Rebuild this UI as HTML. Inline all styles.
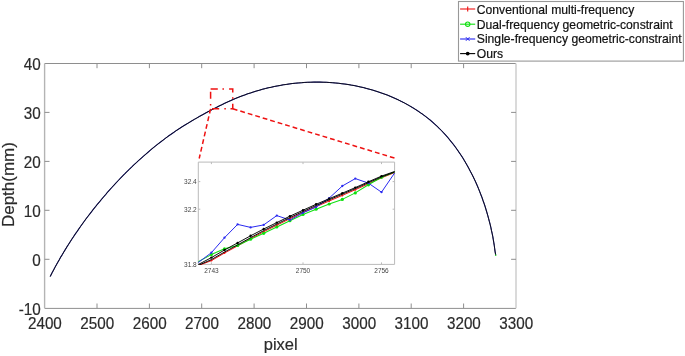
<!DOCTYPE html>
<html><head><meta charset="utf-8"><title>Depth profile</title>
<style>
html,body{margin:0;padding:0;background:#fff;}
svg{display:block;font-family:"Liberation Sans",Arial,sans-serif;}
</style></head><body>
<svg width="685" height="356" viewBox="0 0 685 356">
<rect width="685" height="356" fill="#fff"/>
<g stroke="#8e8e8e" stroke-width="1" fill="none">
<path d="M44.6,63.5 H516.0" /><path d="M44.6,308.4 H516.0"/>
<path d="M44.6,63.5 V308.2" stroke="#b4b4b4" stroke-width="1.4"/>
<path d="M516.0,63.5 V308.2" stroke="#d6d6d6" stroke-width="1.8"/>
<path d="M97.0,308.2 v-4.7 M97.0,63.5 v4.7"/>
<path d="M149.4,308.2 v-4.7 M149.4,63.5 v4.7"/>
<path d="M201.7,308.2 v-4.7 M201.7,63.5 v4.7"/>
<path d="M254.1,308.2 v-4.7 M254.1,63.5 v4.7"/>
<path d="M306.5,308.2 v-4.7 M306.5,63.5 v4.7"/>
<path d="M358.9,308.2 v-4.7 M358.9,63.5 v4.7"/>
<path d="M411.2,308.2 v-4.7 M411.2,63.5 v4.7"/>
<path d="M463.6,308.2 v-4.7 M463.6,63.5 v4.7"/>
<path d="M44.6,259.3 h4.9 M516.0,259.3 h-4.9"/>
<path d="M44.6,210.3 h4.9 M516.0,210.3 h-4.9"/>
<path d="M44.6,161.4 h4.9 M516.0,161.4 h-4.9"/>
<path d="M44.6,112.4 h4.9 M516.0,112.4 h-4.9"/>
</g>
<g fill="#2b2b2b" stroke="#2b2b2b" stroke-width="0.18" font-size="15px">
<text transform="translate(44.9,328.6) scale(1.015,1.13)" text-anchor="middle">2400</text>
<text transform="translate(97.3,328.6) scale(1.015,1.13)" text-anchor="middle">2500</text>
<text transform="translate(149.7,328.6) scale(1.015,1.13)" text-anchor="middle">2600</text>
<text transform="translate(202.0,328.6) scale(1.015,1.13)" text-anchor="middle">2700</text>
<text transform="translate(254.4,328.6) scale(1.015,1.13)" text-anchor="middle">2800</text>
<text transform="translate(306.8,328.6) scale(1.015,1.13)" text-anchor="middle">2900</text>
<text transform="translate(359.2,328.6) scale(1.015,1.13)" text-anchor="middle">3000</text>
<text transform="translate(411.5,328.6) scale(1.015,1.13)" text-anchor="middle">3100</text>
<text transform="translate(463.9,328.6) scale(1.015,1.13)" text-anchor="middle">3200</text>
<text transform="translate(516.3,328.6) scale(1.015,1.13)" text-anchor="middle">3300</text>
<text transform="translate(40.8,314.7) scale(1.015,1.13)" text-anchor="end">-10</text>
<text transform="translate(40.8,265.8) scale(1.015,1.13)" text-anchor="end">0</text>
<text transform="translate(40.8,216.8) scale(1.015,1.13)" text-anchor="end">10</text>
<text transform="translate(40.8,167.9) scale(1.015,1.13)" text-anchor="end">20</text>
<text transform="translate(40.8,118.9) scale(1.015,1.13)" text-anchor="end">30</text>
<text transform="translate(40.8,70.0) scale(1.015,1.13)" text-anchor="end">40</text>
</g>
<text x="280.7" y="350" text-anchor="middle" font-size="16.5px" fill="#2b2b2b" stroke="#2b2b2b" stroke-width="0.18">pixel</text>
<text transform="translate(13.5,184.6) rotate(-90)" text-anchor="middle" font-size="16.5px" fill="#2b2b2b" stroke="#2b2b2b" stroke-width="0.18" textLength="85" lengthAdjust="spacingAndGlyphs">Depth(mm)</text>
<path d="M50.2,276.6 L52.2,272.6 L53.6,270.0 L54.9,267.4 L56.4,264.8 L57.8,262.3 L59.3,259.7 L60.7,257.1 L62.3,254.6 L63.8,252.0 L65.4,249.4 L66.9,246.9 L68.6,244.3 L70.2,241.8 L71.8,239.2 L73.5,236.7 L75.2,234.1 L77.0,231.6 L78.7,229.1 L80.5,226.5 L82.3,224.0 L84.1,221.5 L85.9,219.0 L87.8,216.5 L89.7,214.1 L91.6,211.6 L93.5,209.1 L95.5,206.7 L97.5,204.2 L99.5,201.8 L101.5,199.4 L103.5,197.0 L105.6,194.6 L107.6,192.2 L109.7,189.8 L111.8,187.5 L114.0,185.1 L116.1,182.8 L118.3,180.5 L120.5,178.2 L122.7,175.9 L124.9,173.6 L127.2,171.4 L129.5,169.2 L131.8,166.9 L134.1,164.7 L136.4,162.6 L138.7,160.4 L141.1,158.3 L143.5,156.2 L145.9,154.1 L148.3,152.0 L150.7,149.9 L153.1,147.9 L155.6,145.9 L158.1,143.9 L160.6,142.0 L163.1,140.1 L165.6,138.2 L168.1,136.3 L170.7,134.5 L173.3,132.7 L175.8,130.9 L178.4,129.2 L181.0,127.5 L183.7,125.8 L186.3,124.2 L189.0,122.6 L191.6,121.0 L194.3,119.4 L197.0,117.9 L199.7,116.3 L202.5,114.8 L205.2,113.3 L207.9,111.8 L210.7,110.4 L213.5,108.9 L216.3,107.5 L219.1,106.0 L221.9,104.7 L224.7,103.3 L227.5,102.0 L230.4,100.7 L233.2,99.4 L236.1,98.2 L239.0,97.1 L241.9,95.9 L244.8,94.9 L247.7,93.8 L250.6,92.9 L253.5,91.9 L256.5,91.0 L259.4,90.2 L262.4,89.3 L265.3,88.6 L268.3,87.8 L271.3,87.2 L274.3,86.5 L277.3,85.9 L280.3,85.4 L283.3,84.8 L286.3,84.4 L289.3,83.9 L292.4,83.5 L295.4,83.2 L298.5,82.9 L301.5,82.7 L304.6,82.4 L307.7,82.3 L310.8,82.2 L313.8,82.1 L316.9,82.1 L320.0,82.1 L323.1,82.2 L326.2,82.3 L329.3,82.5 L332.5,82.7 L335.6,83.0 L338.7,83.3 L341.8,83.7 L344.9,84.1 L348.0,84.5 L351.1,85.1 L354.2,85.6 L357.2,86.2 L360.3,86.9 L363.4,87.6 L366.4,88.4 L369.4,89.2 L372.5,90.1 L375.5,91.0 L378.4,91.9 L381.4,93.0 L384.3,94.0 L387.3,95.1 L390.2,96.3 L393.0,97.5 L395.9,98.8 L398.7,100.1 L401.5,101.5 L404.3,102.9 L407.0,104.4 L409.7,105.9 L412.4,107.5 L415.0,109.1 L417.6,110.8 L420.2,112.6 L422.7,114.3 L425.2,116.2 L427.7,118.1 L430.1,120.0 L432.4,122.0 L434.7,124.1 L437.0,126.2 L439.2,128.3 L441.4,130.5 L443.6,132.8 L445.7,135.1 L447.7,137.4 L449.7,139.8 L451.7,142.3 L453.6,144.7 L455.5,147.2 L457.3,149.8 L459.1,152.4 L460.9,155.0 L462.6,157.6 L464.2,160.3 L465.8,163.0 L467.4,165.8 L468.9,168.6 L470.4,171.4 L471.9,174.2 L473.3,177.0 L474.7,179.9 L476.0,182.8 L477.3,185.7 L478.5,188.6 L479.7,191.6 L480.8,194.5 L482.0,197.5 L483.0,200.5 L484.1,203.5 L485.1,206.5 L486.0,209.5 L486.9,212.5 L487.8,215.6 L488.6,218.6 L489.4,221.6 L490.2,224.6 L490.9,227.7 L491.5,230.7 L492.2,233.7 L492.8,236.7 L493.3,239.7 L493.8,242.7 L494.3,245.7 L494.7,248.7 L495.1,251.7 L495.7,254.9" fill="none" stroke="#22228c" stroke-width="1.05" stroke-linejoin="round"/>
<path d="M50.2,276.6 L52.2,272.6 L53.6,270.0 L54.9,267.4 L56.4,264.8 L57.8,262.3 L59.3,259.7 L60.7,257.1 L62.3,254.6 L63.8,252.0 L65.4,249.4 L66.9,246.9 L68.6,244.3 L70.2,241.8 L71.8,239.2 L73.5,236.7 L75.2,234.1 L77.0,231.6 L78.7,229.1 L80.5,226.5 L82.3,224.0 L84.1,221.5 L85.9,219.0 L87.8,216.5 L89.7,214.1 L91.6,211.6 L93.5,209.1 L95.5,206.7 L97.5,204.2 L99.5,201.8 L101.5,199.4 L103.5,197.0 L105.6,194.6 L107.6,192.2 L109.7,189.8 L111.8,187.5 L114.0,185.1 L116.1,182.8 L118.3,180.5 L120.5,178.2 L122.7,175.9 L124.9,173.6 L127.2,171.4 L129.5,169.2 L131.8,166.9 L134.1,164.7 L136.4,162.6 L138.7,160.4 L141.1,158.3 L143.5,156.2 L145.9,154.1 L148.3,152.0 L150.7,149.9 L153.1,147.9 L155.6,145.9 L158.1,143.9 L160.6,142.0 L163.1,140.1 L165.6,138.2 L168.1,136.3 L170.7,134.5 L173.3,132.7 L175.8,130.9 L178.4,129.2 L181.0,127.5 L183.7,125.8 L186.3,124.2 L189.0,122.6 L191.6,121.0 L194.3,119.4 L197.0,117.9 L199.7,116.3 L202.5,114.8 L205.2,113.3 L207.9,111.8 L210.7,110.4 L213.5,108.9 L216.3,107.5 L219.1,106.0 L221.9,104.7 L224.7,103.3 L227.5,102.0 L230.4,100.7 L233.2,99.4 L236.1,98.2 L239.0,97.1 L241.9,95.9 L244.8,94.9 L247.7,93.8 L250.6,92.9 L253.5,91.9 L256.5,91.0 L259.4,90.2 L262.4,89.3 L265.3,88.6 L268.3,87.8 L271.3,87.2 L274.3,86.5 L277.3,85.9 L280.3,85.4 L283.3,84.8 L286.3,84.4 L289.3,83.9 L292.4,83.5 L295.4,83.2 L298.5,82.9 L301.5,82.7 L304.6,82.4 L307.7,82.3 L310.8,82.2 L313.8,82.1 L316.9,82.1 L320.0,82.1 L323.1,82.2 L326.2,82.3 L329.3,82.5 L332.5,82.7 L335.6,83.0 L338.7,83.3 L341.8,83.7 L344.9,84.1 L348.0,84.5 L351.1,85.1 L354.2,85.6 L357.2,86.2 L360.3,86.9 L363.4,87.6 L366.4,88.4 L369.4,89.2 L372.5,90.1 L375.5,91.0 L378.4,91.9 L381.4,93.0 L384.3,94.0 L387.3,95.1 L390.2,96.3 L393.0,97.5 L395.9,98.8 L398.7,100.1 L401.5,101.5 L404.3,102.9 L407.0,104.4 L409.7,105.9 L412.4,107.5 L415.0,109.1 L417.6,110.8 L420.2,112.6 L422.7,114.3 L425.2,116.2 L427.7,118.1 L430.1,120.0 L432.4,122.0 L434.7,124.1 L437.0,126.2 L439.2,128.3 L441.4,130.5 L443.6,132.8 L445.7,135.1 L447.7,137.4 L449.7,139.8 L451.7,142.3 L453.6,144.7 L455.5,147.2 L457.3,149.8 L459.1,152.4 L460.9,155.0 L462.6,157.6 L464.2,160.3 L465.8,163.0 L467.4,165.8 L468.9,168.6 L470.4,171.4 L471.9,174.2 L473.3,177.0 L474.7,179.9 L476.0,182.8 L477.3,185.7 L478.5,188.6 L479.7,191.6 L480.8,194.5 L482.0,197.5 L483.0,200.5 L484.1,203.5 L485.1,206.5 L486.0,209.5 L486.9,212.5 L487.8,215.6 L488.6,218.6 L489.4,221.6 L490.2,224.6 L490.9,227.7 L491.5,230.7 L492.2,233.7 L492.8,236.7 L493.3,239.7 L493.8,242.7 L494.3,245.7 L494.7,248.7 L495.1,251.7 L495.7,254.9" fill="none" stroke="#08080e" stroke-width="0.88" stroke-linejoin="round"/>
<circle cx="495.7" cy="255.3" r="0.8" fill="#20d020"/>
<g fill="none" stroke="#ee1111" stroke-width="1.5">
<path d="M210.6,88.95 H232.75 V108.75 H210.6 V88.95" stroke-dasharray="7.2 4.65 1.5 5.15"/>
<path d="M210.6,108.8 L199.2,158.5" stroke-dasharray="4.8 3.02"/>
<path d="M232.8,108.8 L394.9,158.2" stroke-dasharray="4.8 3.02"/>
</g>
<rect x="198.3" y="162.1" width="196.3" height="102.3" fill="#fff"/>
<g stroke="#bababa" stroke-width="1" fill="none">
<path d="M198.3,162.1 H394.6 V264.4 H198.3 Z" />
<path d="M211.4,264.4 v-2 M211.4,162.1 v2"/>
<path d="M303.0,264.4 v-2 M303.0,162.1 v2"/>
<path d="M381.5,264.4 v-2 M381.5,162.1 v2"/>
<path d="M198.3,209.2 h2 M394.6,209.2 h-2"/>
<path d="M198.3,181.6 h2 M394.6,181.6 h-2"/>
</g>
<g fill="#444" font-size="6.5px">
<text x="211.4" y="273" text-anchor="middle">2743</text>
<text x="303.0" y="273" text-anchor="middle">2750</text>
<text x="381.5" y="273" text-anchor="middle">2756</text>
<text x="196.7" y="266.7" text-anchor="end">31.8</text>
<text x="196.7" y="212.0" text-anchor="end">32.2</text>
<text x="196.7" y="184.4" text-anchor="end">32.4</text>
</g>
<clipPath id="ic"><rect x="197.8" y="161.6" width="197.3" height="103.3"/></clipPath><g clip-path="url(#ic)" fill="none" stroke-width="0.95" stroke-linejoin="round">
<path d="M198.3,265.6 L211.4,260.6 L224.5,253.0 L237.6,245.9 L250.6,238.7 L263.7,231.7 L276.8,225.2 L289.9,218.7 L303.0,212.6 L316.1,206.6 L329.2,201.0 L342.3,195.4 L355.3,189.7 L368.4,183.8 L381.5,177.8 L394.6,172.6" stroke="#ee1111" stroke-width="1.0"/>
<circle cx="211.4" cy="260.6" r="1.0" fill="#ee1111" stroke="none"/>
<circle cx="224.5" cy="253.0" r="1.0" fill="#ee1111" stroke="none"/>
<circle cx="237.6" cy="245.9" r="1.0" fill="#ee1111" stroke="none"/>
<circle cx="250.6" cy="238.7" r="1.0" fill="#ee1111" stroke="none"/>
<circle cx="263.7" cy="231.7" r="1.0" fill="#ee1111" stroke="none"/>
<circle cx="276.8" cy="225.2" r="1.0" fill="#ee1111" stroke="none"/>
<circle cx="289.9" cy="218.7" r="1.0" fill="#ee1111" stroke="none"/>
<circle cx="303.0" cy="212.6" r="1.0" fill="#ee1111" stroke="none"/>
<circle cx="316.1" cy="206.6" r="1.0" fill="#ee1111" stroke="none"/>
<circle cx="329.2" cy="201.0" r="1.0" fill="#ee1111" stroke="none"/>
<circle cx="342.3" cy="195.4" r="1.0" fill="#ee1111" stroke="none"/>
<circle cx="355.3" cy="189.7" r="1.0" fill="#ee1111" stroke="none"/>
<circle cx="368.4" cy="183.8" r="1.0" fill="#ee1111" stroke="none"/>
<circle cx="381.5" cy="177.8" r="1.0" fill="#ee1111" stroke="none"/>
<path d="M198.3,261.6 L211.4,254.6 L224.5,248.8 L237.6,245.5 L250.6,239.2 L263.7,233.3 L276.8,227.0 L289.9,220.7 L303.0,214.5 L316.1,209.2 L329.2,204.0 L342.3,199.4 L355.3,192.9 L368.4,184.8 L381.5,177.2 L394.6,172.1" stroke="#10e010" stroke-width="1.05"/>
<circle cx="211.4" cy="254.6" r="1.6" fill="#10e010" stroke="none"/>
<circle cx="224.5" cy="248.8" r="1.6" fill="#10e010" stroke="none"/>
<circle cx="237.6" cy="245.5" r="1.6" fill="#10e010" stroke="none"/>
<circle cx="250.6" cy="239.2" r="1.6" fill="#10e010" stroke="none"/>
<circle cx="263.7" cy="233.3" r="1.6" fill="#10e010" stroke="none"/>
<circle cx="276.8" cy="227.0" r="1.6" fill="#10e010" stroke="none"/>
<circle cx="289.9" cy="220.7" r="1.6" fill="#10e010" stroke="none"/>
<circle cx="303.0" cy="214.5" r="1.6" fill="#10e010" stroke="none"/>
<circle cx="316.1" cy="209.2" r="1.6" fill="#10e010" stroke="none"/>
<circle cx="329.2" cy="204.0" r="1.6" fill="#10e010" stroke="none"/>
<circle cx="342.3" cy="199.4" r="1.6" fill="#10e010" stroke="none"/>
<circle cx="355.3" cy="192.9" r="1.6" fill="#10e010" stroke="none"/>
<circle cx="368.4" cy="184.8" r="1.6" fill="#10e010" stroke="none"/>
<circle cx="381.5" cy="177.2" r="1.6" fill="#10e010" stroke="none"/>
<path d="M198.3,262.5 L211.4,252.7 L224.5,237.7 L237.6,224.4 L250.6,227.4 L263.7,224.9 L276.8,215.6 L289.9,220.0 L303.0,212.8 L316.1,207.1 L329.2,198.1 L342.3,186.0 L355.3,178.6 L368.4,183.1 L381.5,192.2 L394.6,173.0" stroke="#2a2af0" stroke-width="1.0"/>
<circle cx="211.4" cy="252.7" r="1.15" fill="#2a2af0" stroke="none"/>
<circle cx="224.5" cy="237.7" r="1.15" fill="#2a2af0" stroke="none"/>
<circle cx="237.6" cy="224.4" r="1.15" fill="#2a2af0" stroke="none"/>
<circle cx="250.6" cy="227.4" r="1.15" fill="#2a2af0" stroke="none"/>
<circle cx="263.7" cy="224.9" r="1.15" fill="#2a2af0" stroke="none"/>
<circle cx="276.8" cy="215.6" r="1.15" fill="#2a2af0" stroke="none"/>
<circle cx="289.9" cy="220.0" r="1.15" fill="#2a2af0" stroke="none"/>
<circle cx="303.0" cy="212.8" r="1.15" fill="#2a2af0" stroke="none"/>
<circle cx="316.1" cy="207.1" r="1.15" fill="#2a2af0" stroke="none"/>
<circle cx="329.2" cy="198.1" r="1.15" fill="#2a2af0" stroke="none"/>
<circle cx="342.3" cy="186.0" r="1.15" fill="#2a2af0" stroke="none"/>
<circle cx="355.3" cy="178.6" r="1.15" fill="#2a2af0" stroke="none"/>
<circle cx="368.4" cy="183.1" r="1.15" fill="#2a2af0" stroke="none"/>
<circle cx="381.5" cy="192.2" r="1.15" fill="#2a2af0" stroke="none"/>
<path d="M198.3,265.3 L211.4,259.6 L224.5,252.0 L237.6,244.9 L250.6,237.7 L263.7,230.6 L276.8,224.1 L289.9,217.6 L303.0,211.5 L316.1,205.5 L329.2,199.8 L342.3,194.2 L355.3,188.6 L368.4,182.7 L381.5,176.9 L394.6,172.0" stroke="#000" stroke-width="0.95"/>
<path d="M198.3,264.5 L211.4,257.6 L224.5,250.0 L237.6,242.9 L250.6,235.8 L263.7,229.0 L276.8,222.6 L289.9,216.2 L303.0,210.2 L316.1,204.3 L329.2,198.7 L342.3,193.2 L355.3,187.6 L368.4,181.8 L381.5,176.1 L394.6,171.5" stroke="#000" stroke-width="0.95"/>
<circle cx="211.4" cy="257.6" r="1.2" fill="#000" stroke="none"/>
<circle cx="224.5" cy="250.0" r="1.2" fill="#000" stroke="none"/>
<circle cx="237.6" cy="242.9" r="1.2" fill="#000" stroke="none"/>
<circle cx="250.6" cy="235.8" r="1.2" fill="#000" stroke="none"/>
<circle cx="263.7" cy="229.0" r="1.2" fill="#000" stroke="none"/>
<circle cx="276.8" cy="222.6" r="1.2" fill="#000" stroke="none"/>
<circle cx="289.9" cy="216.2" r="1.2" fill="#000" stroke="none"/>
<circle cx="303.0" cy="210.2" r="1.2" fill="#000" stroke="none"/>
<circle cx="316.1" cy="204.3" r="1.2" fill="#000" stroke="none"/>
<circle cx="329.2" cy="198.7" r="1.2" fill="#000" stroke="none"/>
<circle cx="342.3" cy="193.2" r="1.2" fill="#000" stroke="none"/>
<circle cx="355.3" cy="187.6" r="1.2" fill="#000" stroke="none"/>
<circle cx="368.4" cy="181.8" r="1.2" fill="#000" stroke="none"/>
<circle cx="381.5" cy="176.1" r="1.2" fill="#000" stroke="none"/>
</g>
<rect x="458.5" y="1.5" width="224.9" height="59.6" fill="#fff" stroke="#989898" stroke-width="1.1"/>
<path d="M460.1,9.0 H475.2" stroke="#ee1111" stroke-width="1.1"/>
<path d="M467.7,6.4 V11.6" stroke="#ee1111" stroke-width="1.1"/>
<text x="476.8" y="14.0" font-size="12.17px" fill="#111" stroke="#111" stroke-width="0.2">Conventional multi-frequency</text>
<path d="M460.1,24.2 H475.2" stroke="#10e010" stroke-width="1.1"/>
<circle cx="467.7" cy="24.2" r="2.2" fill="none" stroke="#10e010" stroke-width="1.1"/>
<text x="476.8" y="28.7" font-size="12.17px" fill="#111" stroke="#111" stroke-width="0.2">Dual-frequency geometric-constraint</text>
<path d="M460.1,39.0 H475.2" stroke="#2525f0" stroke-width="1.1"/>
<path d="M465.9,37.2 l3.6,3.6 M465.9,40.8 l3.6,-3.6" stroke="#2525f0" stroke-width="1"/>
<text x="476.8" y="43.4" font-size="12.17px" fill="#111" stroke="#111" stroke-width="0.2">Single-frequency geometric-constraint</text>
<path d="M460.1,53.6 H475.2" stroke="#000" stroke-width="1.1"/>
<circle cx="467.7" cy="53.6" r="1.9" fill="#000"/>
<text x="476.8" y="58.0" font-size="12.17px" fill="#111" stroke="#111" stroke-width="0.2">Ours</text>
</svg></body></html>
